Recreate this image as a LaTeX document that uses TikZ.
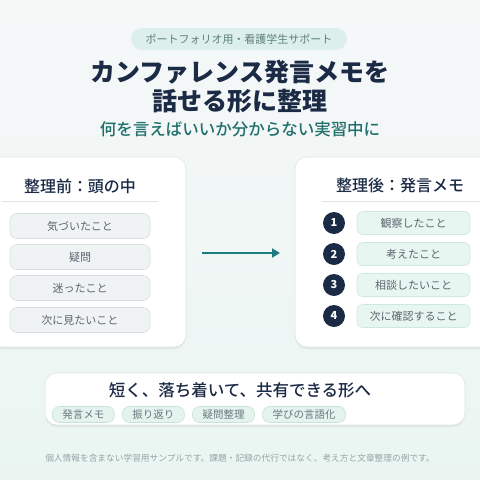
\documentclass[tikz,border=0pt]{standalone}
\usepackage{fontspec}
\setmainfont{Noto Sans CJK JP}
\newfontfamily\mediumfont{Noto Sans CJK JP Medium}
\usetikzlibrary{shadows,arrows.meta,positioning}

\definecolor{navy}{HTML}{1B2A45}
\definecolor{teal}{HTML}{1F6F6B}
\definecolor{arrowteal}{HTML}{1E7C7E}
\definecolor{pilltop}{HTML}{DDEFEA}
\definecolor{pilltext}{HTML}{5E807B}
\definecolor{cardline}{HTML}{E0E6E8}
\definecolor{grayfill}{HTML}{F0F3F4}
\definecolor{grayline}{HTML}{D8DFE1}
\definecolor{graytext}{HTML}{5B666F}
\definecolor{mintfill}{HTML}{E8F6F1}
\definecolor{mintline}{HTML}{CDE8DF}
\definecolor{tagfill}{HTML}{E5F3EF}
\definecolor{tagline}{HTML}{C8E2DA}
\definecolor{tagtext}{HTML}{68787E}
\definecolor{foottext}{HTML}{99A2A7}

\tikzset{
	card/.style = {draw=cardline, fill=white, rounded corners=12pt, line width=0.6pt,
		drop shadow={opacity=0.12, shadow xshift=0pt, shadow yshift=-2pt}},
	before/.style = {draw=grayline, fill=grayfill, rounded corners=7pt, line width=0.6pt,
		minimum width=140pt, minimum height=25pt, text=graytext, font=\fontsize{11}{13}\selectfont},
	after/.style = {draw=mintline, fill=mintfill, rounded corners=6pt, line width=0.6pt,
		minimum width=113pt, minimum height=23pt, text=graytext, font=\fontsize{11}{13}\selectfont},
	num/.style = {circle, fill=navy, text=white, minimum size=22pt, inner sep=0pt,
		font=\fontsize{11}{12}\selectfont\bfseries},
	tag/.style = {draw=tagline, fill=tagfill, rounded corners=7pt, line width=0.6pt,
		minimum height=16pt, inner xsep=10pt, inner ysep=0pt, text=tagtext,
		font=\fontsize{10.5}{12}\selectfont},
	head/.style = {text=navy, font=\fontsize{16}{18}\selectfont\mediumfont}
}

\begin{document}
\begin{tikzpicture}[x=1pt, y=-1pt]
	\useasboundingbox (0,0) rectangle (480,480);
	\shade[top color=white!40!grayfill, bottom color=mintfill!80!grayfill] (0,0) rectangle (480,480);

	% header
	\node[fill=pilltop, rounded corners=11pt, minimum width=216pt, minimum height=22pt, text=pilltext,
		font=\fontsize{11}{13}\selectfont] (badge) at (239,39) {ポートフォリオ用・看護学生サポート};
	\node[text=navy, font=\fontsize{25}{28}\selectfont\bfseries] (title1) at (240,72) {カンファレンス発言メモを};
	\node[text=navy, font=\fontsize{25}{28}\selectfont\bfseries] (title2) at (240,101) {話せる形に整理};
	\node[text=teal, font=\fontsize{16.5}{18}\selectfont\mediumfont] (sub) at (240,129) {何を言えばいいか分からない実習中に};

	% before
	\node[card, minimum width=196pt, minimum height=190pt] (leftcard) at (88,252) {};
	\node[head] (lefthead) at (80,186) {整理前：頭の中};
	\draw[cardline, line width=0.8pt] (2,201) -- (158,201);
	\node[before] (b1) at (80,226) {気づいたこと};
	\node[before] (b2) at (80,257) {疑問};
	\node[before] (b3) at (80,288) {迷ったこと};
	\node[before] (b4) at (80,320) {次に見たいこと};

	% arrow
	\coordinate (from) at (202,253);
	\coordinate (to) at (280,253);
	\draw[arrowteal, line width=2pt, -{Triangle[length=8pt, width=9pt]}] (from) -- (to);

	% after
	\node[card, minimum width=200pt, minimum height=190pt] (rightcard) at (395,252) {};
	\node[head] (righthead) at (400,185) {整理後：発言メモ};
	\draw[cardline, line width=0.8pt] (322,201) -- (480,201);
	\foreach \n/\y/\t in {1/223/観察したこと, 2/254/考えたこと, 3/285/相談したいこと, 4/316/次に確認すること} {
		\node[num] (n\n) at (334,\y) {\n};
		\node[after] (a\n) at (413.5,\y) {\t};
	}

	% bottom
	\node[card, minimum width=420pt, minimum height=52pt] (bottomcard) at (255,399) {};
	\node[text=navy, font=\fontsize{16.5}{18}\selectfont\mediumfont] (goal) at (240,390) {短く、落ち着いて、共有できる形へ};
	\node[tag, anchor=west] (t1) at (52,414.5) {発言メモ};
	\node[tag, right=7.5pt of t1] (t2) {振り返り};
	\node[tag, right=7.5pt of t2] (t3) {疑問整理};
	\node[tag, right=7.5pt of t3] (t4) {学びの言語化};

	\node[text=foottext, font=\fontsize{8.7}{10}\selectfont] (note) at (240,458)
		{個人情報を含まない学習用サンプルです。課題・記録の代行ではなく、考え方と文章整理の例です。};
\end{tikzpicture}
\end{document}
